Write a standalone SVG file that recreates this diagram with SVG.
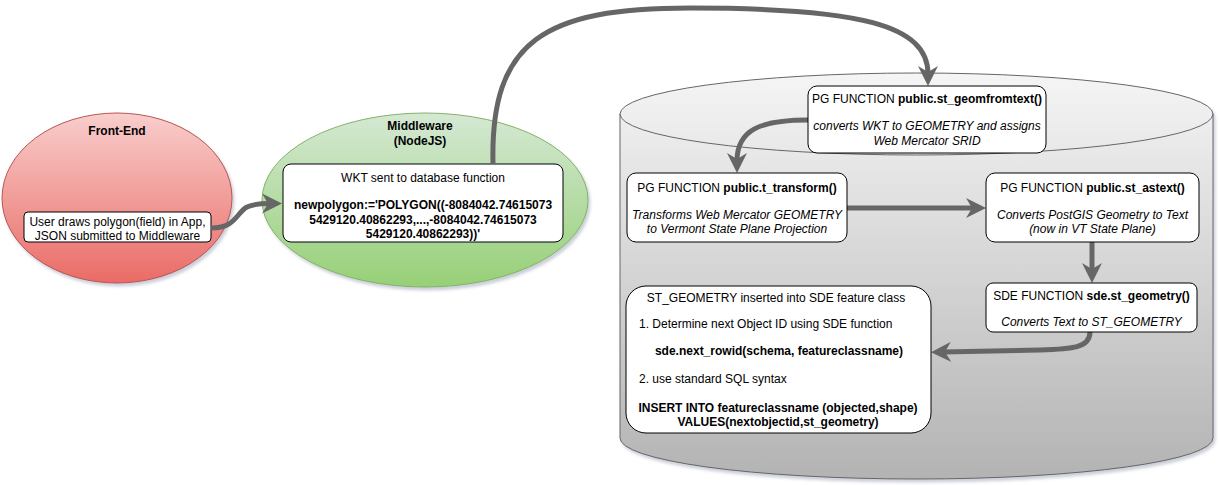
<svg xmlns="http://www.w3.org/2000/svg" width="1220" height="485" viewBox="0 0 1220 485">
<defs>
<linearGradient id="gRed" x1="0" y1="0" x2="0" y2="1"><stop offset="0" stop-color="#f8cecc"/><stop offset="1" stop-color="#ea6b66"/></linearGradient>
<linearGradient id="gGreen" x1="0" y1="0" x2="0" y2="1"><stop offset="0" stop-color="#d5e8d4"/><stop offset="1" stop-color="#97d077"/></linearGradient>
<linearGradient id="gGray" x1="0" y1="0" x2="0" y2="1"><stop offset="0" stop-color="#f5f5f5"/><stop offset="1" stop-color="#b3b3b3"/></linearGradient>
<filter id="sh" x="-10%" y="-10%" width="125%" height="130%"><feDropShadow dx="2" dy="3" stdDeviation="1.5" flood-color="#6a7590" flood-opacity="0.35"/></filter>
<marker id="arr" viewBox="0 0 10 10" markerWidth="20" markerHeight="20" refX="4" refY="5" orient="auto" markerUnits="userSpaceOnUse"><path d="M0,0 L10,5 L0,10 L3,5 Z" fill="#666666"/></marker>
<style>
text{font-family:"Liberation Sans",Arial,Helvetica,sans-serif;font-size:12px;fill:#000}
.b{font-weight:bold}
.i{font-style:italic}
.c{text-anchor:middle}
.box{fill:#ffffff;stroke:#000000;stroke-width:1}
.con{fill:none;stroke:#666666;stroke-width:5;marker-end:url(#arr)}
</style>
</defs>

<g id="frontend">
<ellipse cx="117" cy="198" rx="115" ry="85" fill="url(#gRed)" stroke="#b85450" filter="url(#sh)"/>
<text class="c b" x="117" y="135">Front-End</text>
</g>
<g id="frontend-box">
<rect class="box" x="24" y="212" width="187" height="30" rx="4"/>
<text class="c" x="117.5" y="226">User draws polygon(field) in App,</text>
<text class="c" x="117.5" y="240">JSON submitted to Middleware</text>
</g>

<g id="middleware">
<ellipse cx="425" cy="200" rx="163" ry="87" fill="url(#gGreen)" stroke="#82b366" filter="url(#sh)"/>
<text class="c b" x="420" y="130">Middleware</text>
<text class="c b" x="420" y="145">(NodeJS)</text>
</g>
<g id="middleware-box">
<rect class="box" x="283" y="164" width="280" height="78" rx="8"/>
<text class="c" x="423" y="182">WKT sent to database function</text>
<text class="c b" x="423" y="209">newpolygon:='POLYGON((-8084042.74615073</text>
<text class="c b" x="423" y="224">5429120.40862293,...,-8084042.74615073</text>
<text class="c b" x="423" y="238">5429120.40862293))'</text>
</g>

<g id="database">
<path d="M620,114 A296.5,41 0 0 1 1213,114 L1213,438 A296.5,41 0 0 1 620,438 Z" fill="url(#gGray)" stroke="#666666" filter="url(#sh)"/>
<path d="M620,114 A296.5,41 0 0 0 1213,114" fill="none" stroke="#666666"/>
</g>

<g id="connectors">
<path class="con" d="M211,228 C236,228 236,213 247,207 C253,204 260,203.5 270,203.5"/>
<path class="con" d="M493,164 C490,40 545,8 690,8 C860,8 928,25 928,74"/>
<path class="con" d="M808,120 C760,120 737,130 737,161"/>
<path class="con" d="M847,208 L974,208"/>
<path class="con" d="M1092,242 L1092,271"/>
<path class="con" d="M1090,332 C1090,348 1072,349 1040,350 L943,352"/>
</g>

<g id="st_geomfromtext">
<rect class="box" x="808" y="86" width="238" height="67" rx="9"/>
<text class="c" x="927" y="103">PG FUNCTION <tspan class="b">public.st_geomfromtext()</tspan></text>
<text class="c i" x="927" y="130">converts WKT to GEOMETRY and assigns</text>
<text class="c i" x="927" y="145">Web Mercator SRID</text>
</g>

<g id="t_transform">
<rect class="box" x="627" y="173" width="220" height="69" rx="9"/>
<text class="c" x="737" y="192">PG FUNCTION <tspan class="b">public.t_transform()</tspan></text>
<text class="c i" x="737" y="219">Transforms Web Mercator GEOMETRY</text>
<text class="c i" x="737" y="233">to Vermont State Plane Projection</text>
</g>

<g id="st_astext">
<rect class="box" x="986" y="173" width="213" height="69" rx="9"/>
<text class="c" x="1092.5" y="192">PG FUNCTION <tspan class="b">public.st_astext()</tspan></text>
<text class="c i" x="1092.5" y="219">Converts PostGIS Geometry to Text</text>
<text class="c i" x="1092.5" y="233">(now in VT State Plane)</text>
</g>

<g id="sde_st_geometry">
<rect class="box" x="986" y="283" width="211" height="49" rx="7"/>
<text class="c" x="1091.5" y="300">SDE FUNCTION <tspan class="b">sde.st_geometry()</tspan></text>
<text class="c i" x="1091.5" y="326">Converts Text to ST_GEOMETRY</text>
</g>

<g id="insert">
<rect class="box" x="626" y="286" width="305" height="147" rx="20"/>
<text class="c" x="776" y="302">ST_GEOMETRY inserted into SDE feature class</text>
<text x="639" y="328">1. Determine next Object ID using SDE function</text>
<text class="c b" x="779" y="355">sde.next_rowid(schema, featureclassname)</text>
<text x="639" y="383">2. use standard SQL syntax</text>
<text class="c b" x="778" y="412">INSERT INTO featureclassname (objected,shape)</text>
<text class="c b" x="778" y="426">VALUES(nextobjectid,st_geometry)</text>
</g>
</svg>
